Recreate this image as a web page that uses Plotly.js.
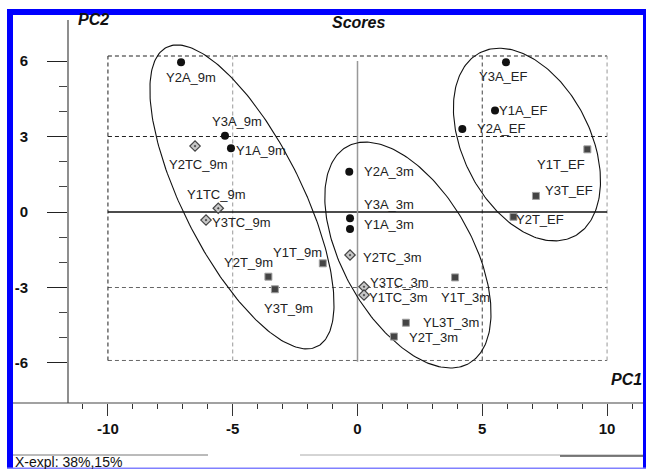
<!DOCTYPE html>
<html><head><meta charset="utf-8">
<script src="https://cdn.plot.ly/plotly-3.0.1.min.js"></script>
<style>html,body{margin:0;padding:0;background:#fff;overflow:hidden}#chart{width:646px;height:469px}</style>
</head><body><div id="chart"></div>
<script>
// ---- data ----
const aLabels = ['Y2A_9m','Y3A_9m','Y1A_9m','Y2A_3m','Y3A_3m','Y1A_3m','Y3A_EF','Y1A_EF','Y2A_EF'];
const aPC1 = [-7.07,-5.31,-5.07,-0.33,-0.30,-0.30,5.95,5.51,4.20];
const aPC2 = [5.95,3.03,2.53,1.60,-0.25,-0.68,5.95,4.03,3.30];

const tcLabels = ['Y2TC_9m','Y1TC_9m','Y3TC_9m','Y2TC_3m','Y3TC_3m','Y1TC_3m'];
const tcPC1 = [-6.51,-5.58,-6.07,-0.30,0.26,0.26];
const tcPC2 = [2.62,0.15,-0.32,-1.71,-2.97,-3.30];

const tLabels = ['Y1T_9m','Y2T_9m','Y3T_9m','Y1T_3m','YL3T_3m','Y2T_3m','Y1T_EF','Y3T_EF','Y2T_EF'];
const tPC1 = [-1.39,-3.57,-3.31,3.91,1.94,1.46,9.21,7.15,6.25];
const tPC2 = [-2.04,-2.57,-3.07,-2.60,-4.40,-4.95,2.49,0.64,-0.19];

// group ellipses: centre, half-height, half-width at centre, shear
const ellCx = [-4.63, 2.02, 6.79];
const ellCy = [0.60, -1.71, 2.68];
const ellHalfH = [6.04, 4.49, 3.83];
const ellHalfW = [2.62, 2.86, 2.73];
const ellShear = [-0.43, -0.38, -0.29];

// limit lines
const limX = [-10, -5, 5, 10];
const limY = [-5.9, -3, 3, 6.2];

const xTickVals = [-10,-5,0,5,10];
const xTickText = ['-10','-5','0','5','10'];
const xMinorVals = [-11,-9,-8,-7,-6,-4,-3,-2,-1,1,2,3,4,6,7,8,9,11];
const yTickVals = [-6,-3,0,3,6];
const yTickText = ['-6','-3','0','3','6'];
const yMinorVals = [-5,-4,-2,-1,1,2,4,5];

// ---- label placement (pixel offsets: dx right, dy down) ----
const labelOffset = {
 'Y2A_9m':[9.5,15],'Y3A_9m':[12,-14],'Y1A_9m':[30,2],'Y2A_3m':[40,0],'Y3A_3m':[39,-14],'Y1A_3m':[39,-5],
 'Y3A_EF':[-3,14],'Y1A_EF':[28,0],'Y2A_EF':[38.5,0],
 'Y2TC_9m':[3,18],'Y1TC_9m':[-2,-14],'Y3TC_9m':[35,2.5],'Y2TC_3m':[42.7,2.7],'Y3TC_3m':[36,-4.7],'Y1TC_3m':[35,2.7],
 'Y1T_9m':[-25,-11],'Y2T_9m':[-20,-14],'Y3T_9m':[14,19],'Y1T_3m':[10,20],'YL3T_3m':[45,0],'Y2T_3m':[40,1],
 'Y1T_EF':[-26,15],'Y3T_EF':[33,-5],'Y2T_EF':[27,3]
};

const FONT = 'Liberation Sans, Arial, Helvetica, sans-serif';
const L = 68, T = 20, PW = 578, PH = 383;
const px = v => (v - L) / PW;
const py = v => (T + PH - v) / PH;

const traces = [];
for (let i = 0; i < ellCx.length; i++) {
  const ex = [], ey = [];
  for (let k = 0; k <= 240; k++) {
    const t = 2 * Math.PI * k / 240;
    const dy = ellHalfH[i] * Math.sin(t);
    ey.push(ellCy[i] + dy);
    ex.push(ellCx[i] + ellShear[i] * dy + ellHalfW[i] * Math.cos(t));
  }
  traces.push({x: ex, y: ey, mode: 'lines', line: {color: '#111', width: 1.1}, hoverinfo: 'skip', showlegend: false});
}
traces.push({x: aPC1, y: aPC2, mode: 'markers', marker: {symbol: 'circle', size: 8, color: '#111'}, hoverinfo: 'skip', showlegend: false});
traces.push({x: tcPC1, y: tcPC2, mode: 'markers', marker: {symbol: 'diamond-dot', size: 8, color: '#c8c8c8', line: {color: '#444', width: 1.2}}, hoverinfo: 'skip', showlegend: false});
traces.push({x: tPC1, y: tPC2, mode: 'markers', marker: {symbol: 'square', size: 7, color: '#444', line: {color: '#a0a0a0', width: 1}}, hoverinfo: 'skip', showlegend: false});

const ann = [];
function addLabels(labels, xs, ys) {
  labels.forEach((lab, i) => {
    const o = labelOffset[lab] || [0, 0];
    ann.push({x: xs[i], y: ys[i], xref: 'x', yref: 'y', text: lab, showarrow: false,
      xanchor: 'center', yanchor: 'middle', xshift: o[0], yshift: -o[1],
      font: {family: FONT, size: 13, color: '#222'}});
  });
}
addLabels(aLabels, aPC1, aPC2);
addLabels(tcLabels, tcPC1, tcPC2);
addLabels(tLabels, tPC1, tPC2);

const bi = {family: FONT, size: 16, color: '#111', weight: 700, style: 'italic'};
ann.push({xref: 'paper', yref: 'paper', x: px(76), y: py(19.5), text: 'PC2', showarrow: false, xanchor: 'left', yanchor: 'middle', font: bi});
ann.push({xref: 'paper', yref: 'paper', x: px(358), y: py(22.5), text: 'Scores', showarrow: false, xanchor: 'center', yanchor: 'middle', font: bi});
ann.push({xref: 'paper', yref: 'paper', x: px(609), y: py(379.5), text: 'PC1', showarrow: false, xanchor: 'left', yanchor: 'middle', font: bi});
ann.push({xref: 'paper', yref: 'paper', x: px(13), y: py(461.5), text: 'X-expl: 38%,15%', showarrow: false, xanchor: 'left', yanchor: 'middle', font: {family: FONT, size: 14, color: '#111'}});

const shapes = [];
const xmin = limX[0], xmax = limX[3], ymin = limY[0], ymax = limY[3];
function dline(x0, y0, x1, y1, color, w) {
  shapes.push({type: 'line', xref: 'x', yref: 'y', x0, y0, x1, y1, layer: 'below', line: {color, width: w || 1, dash: '4px,3px'}});
}
dline(xmin, ymax, xmax, ymax, '#222', 1.2);
dline(xmin, limY[2], xmax, limY[2], '#222', 1.2);
dline(xmin, limY[1], xmax, limY[1], '#666', 1);
dline(xmin, ymin, xmax, ymin, '#666', 1);
dline(xmin, ymin, xmin, ymax, '#333', 1.1);
dline(limX[1], ymin, limX[1], ymax, '#999', 1);
dline(limX[2], ymin, limX[2], ymax, '#555', 1.1);
dline(xmax, ymin, xmax, ymax, '#999', 1);
// zero lines
shapes.push({type: 'line', xref: 'x', yref: 'y', x0: xmin, x1: xmax, y0: 0, y1: 0, layer: 'below', line: {color: '#111', width: 1.3}});
shapes.push({type: 'line', xref: 'x', yref: 'y', x0: 0, x1: 0, y0: -5.95, y1: 6, layer: 'below', line: {color: '#999', width: 1.5}});
// axis lines
shapes.push({type: 'line', xref: 'paper', yref: 'paper', x0: 0, x1: 0, y0: 0, y1: 1, line: {color: '#444', width: 1.2}});
shapes.push({type: 'line', xref: 'paper', yref: 'paper', x0: px(13), x1: px(643), y0: 0, y1: 0, line: {color: '#444', width: 1.2}});
// status separator lines
shapes.push({type: 'line', xref: 'paper', yref: 'paper', x0: px(13), x1: px(208), y0: py(455), y1: py(455), line: {color: '#777', width: 1}});
shapes.push({type: 'line', xref: 'paper', yref: 'paper', x0: px(300), x1: px(643), y0: py(455), y1: py(455), line: {color: '#aaa', width: 1}});
shapes.push({type: 'line', xref: 'paper', yref: 'paper', x0: px(560), x1: px(643), y0: py(456), y1: py(456), line: {color: '#555', width: 1.5}});
// blue frame
const rect = (x0, y0, x1, y1, c) => shapes.push({type: 'rect', xref: 'paper', yref: 'paper', x0: px(x0), x1: px(x1), y0: py(y1), y1: py(y0), fillcolor: c, line: {width: 0}, layer: 'above'});
rect(7, 9, 13, 469, '#0000ff');
rect(7, 9, 646, 15, '#0000ff');
rect(643, 9, 646, 469, '#0000ff');
rect(7, 467.5, 646, 469, '#8080ff');

const tickFont = {family: FONT, size: 15, color: '#111', weight: 700};
const layout = {
  width: 646, height: 469,
  margin: {l: L, r: 646 - L - PW, t: T, b: 469 - T - PH, pad: 0},
  paper_bgcolor: '#fff', plot_bgcolor: '#fff',
  showlegend: false,
  xaxis: {range: [-11.6, 11.56], tickmode: 'array', tickvals: xTickVals, ticktext: xTickText,
    ticks: 'outside', ticklen: 12, tickwidth: 1, tickcolor: '#333', showgrid: false, zeroline: false, showline: false,
    tickfont: tickFont, minor: {tickmode: 'array', tickvals: xMinorVals, ticks: 'outside', ticklen: 5, tickwidth: 1, tickcolor: '#333', showgrid: false}},
  yaxis: {range: [-7.59, 7.63], tickmode: 'array', tickvals: yTickVals, ticktext: yTickText,
    ticks: 'outside', ticklen: 20, tickwidth: 1, tickcolor: '#222', showgrid: false, zeroline: false, showline: false,
    tickfont: tickFont, ticklabelstandoff: 16,
    minor: {tickmode: 'array', tickvals: yMinorVals, ticks: 'outside', ticklen: 8, tickwidth: 1, tickcolor: '#444', showgrid: false}},
  shapes, annotations: ann
};
Plotly.newPlot('chart', traces, layout, {staticPlot: true, displayModeBar: false});
</script></body></html>
